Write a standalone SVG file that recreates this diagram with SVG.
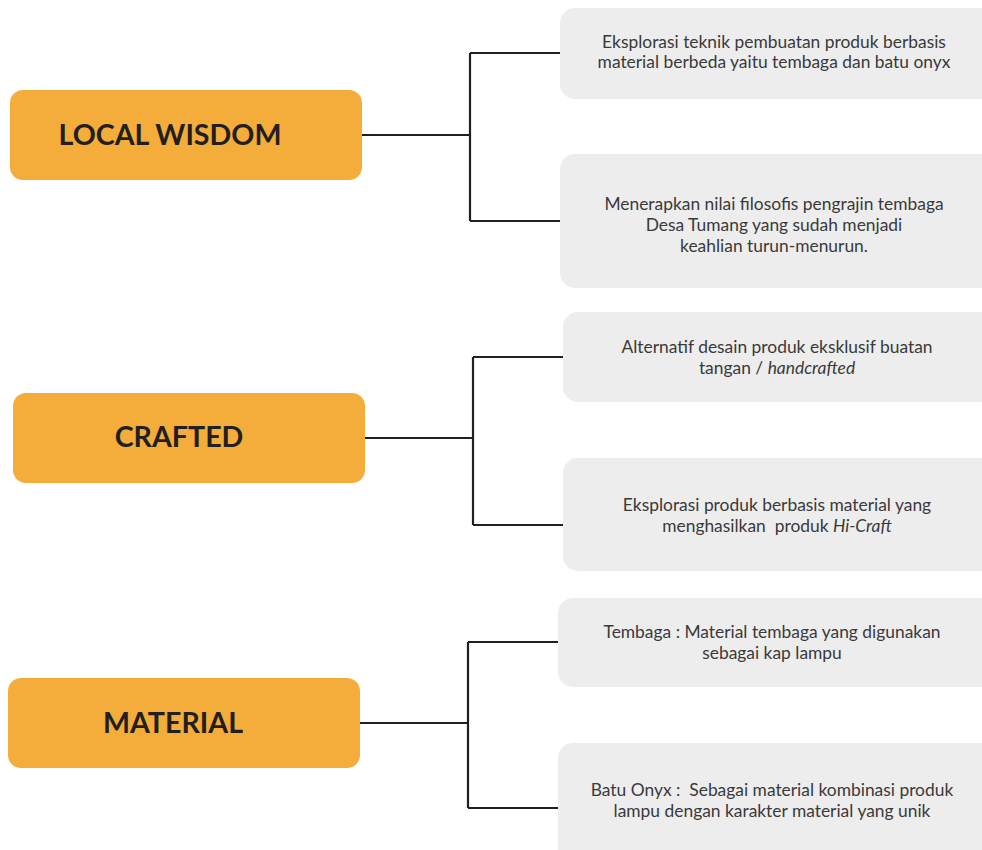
<svg xmlns="http://www.w3.org/2000/svg" width="982" height="850" viewBox="0 0 982 850">
<style>
.cat rect{fill:#F4AC3B;}
.cat text{font-family:Lato,"Liberation Sans",sans-serif;font-weight:700;font-size:28.6px;fill:#231F20;text-anchor:middle;}
.item rect{fill:#EDEDED;}
.item text{font-family:Lato,"Liberation Sans",sans-serif;font-size:17.4px;fill:#3A3A3A;text-anchor:middle;}
.conn path{fill:none;stroke:#231F20;stroke-width:2.2;}
</style>
<rect width="982" height="850" fill="#FFFFFF"/>
<g class="conn" id="connectors">
<path d="M362 135H470M470 53V221M470 53H560M470 221H560"/>
<path d="M365 438H473M473 357V525M473 357H563M473 525H563"/>
<path d="M360 723H468M468 642V808M468 642H558M468 808H558"/>
</g>
<g class="cat" id="local-wisdom"><rect x="10" y="90" width="352" height="90" rx="13"/><text x="170" y="145">LOCAL WISDOM</text></g>
<g class="cat" id="crafted"><rect x="13" y="393" width="352" height="90" rx="13"/><text x="179" y="447">CRAFTED</text></g>
<g class="cat" id="material"><rect x="8" y="678" width="352" height="90" rx="13"/><text x="173" y="733">MATERIAL</text></g>
<g class="item" id="lw1"><rect x="560" y="8" width="440" height="91" rx="15"/><text x="774" y="48">Eksplorasi teknik pembuatan produk berbasis</text><text x="774" y="68">material berbeda yaitu tembaga dan batu onyx</text></g>
<g class="item" id="lw2"><rect x="560" y="154" width="440" height="134" rx="15"/><text x="774" y="210">Menerapkan nilai filosofis pengrajin tembaga</text><text x="774" y="231">Desa Tumang yang sudah menjadi</text><text x="774" y="252">keahlian turun-menurun.</text></g>
<g class="item" id="cr1"><rect x="563" y="312" width="440" height="90" rx="15"/><text x="777" y="353">Alternatif desain produk eksklusif buatan</text><text x="777" y="374">tangan / <tspan font-style="italic">handcrafted</tspan></text></g>
<g class="item" id="cr2"><rect x="563" y="458" width="440" height="113" rx="15"/><text x="777" y="511">Eksplorasi produk berbasis material yang</text><text x="777" y="532" xml:space="preserve">menghasilkan  produk <tspan font-style="italic">Hi-Craft</tspan></text></g>
<g class="item" id="m1"><rect x="558" y="598" width="440" height="89" rx="15"/><text x="772" y="638">Tembaga : Material tembaga yang digunakan</text><text x="772" y="659">sebagai kap lampu</text></g>
<g class="item" id="m2"><rect x="558" y="743" width="440" height="130" rx="15"/><text x="772" y="796" xml:space="preserve">Batu Onyx :  Sebagai material kombinasi produk</text><text x="772" y="817">lampu dengan karakter material yang unik</text></g>
</svg>
